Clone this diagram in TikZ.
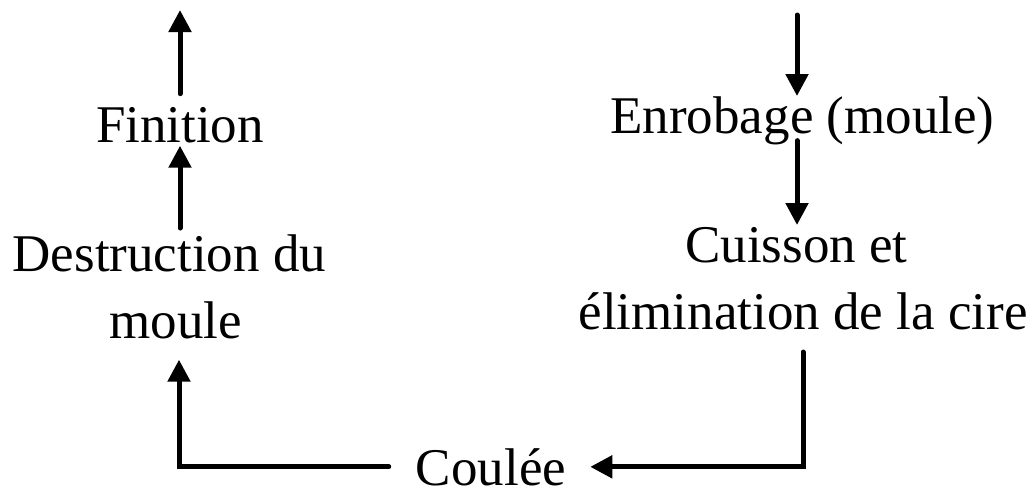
\documentclass[tikz,border=0pt]{standalone}
\usepackage{fontspec}
\setmainfont{Liberation Serif}
\usetikzlibrary{arrows.meta}
\begin{document}
\begin{tikzpicture}[x=1pt,y=-1pt,
  lbl/.style={inner sep=0pt,font=\fontsize{53}{67}\selectfont,align=center},
  arr/.style={line width=5pt,line cap=round,-{Triangle[length=22pt,width=22pt]}}]
\useasboundingbox (0,0) rectangle (1035,493);
\node[lbl,anchor=base] (fin) at (180,142) {Finition};
\node[lbl,anchor=north] (des) at (176,235) {Destruction du\rule{.25em}{0pt}\\moule};
\node[lbl,anchor=base] (enr) at (802.5,133) {Enrobage (moule)};
\node[lbl,anchor=north] (cui) at (803,227) {Cuisson et\rule{.25em}{0pt}\\élimination de la cire};
\node[lbl,anchor=base] (cou) at (491,485) {Coulée};
\coordinate (tl) at (180,10);
\coordinate (tr) at (797,15);
\draw[arr,shorten <=13pt] (fin.north) -- (tl);
\draw[arr,shorten <=7pt,shorten >=3pt] (des.north -| fin) -- (fin.south);
\draw[arr] (tr) -- (enr.north -| tr);
\draw[arr,shorten <=-4pt,shorten >=2pt] (enr.south -| tr) -- (cui.north -| tr);
\draw[arr,shorten <=22pt,shorten >=24pt] (cui.south) |- (cou.east);
\draw[arr,shorten <=27pt,shorten >=20pt] (cou.west) -| ([xshift=3pt]des.south);
\end{tikzpicture}
\end{document}
